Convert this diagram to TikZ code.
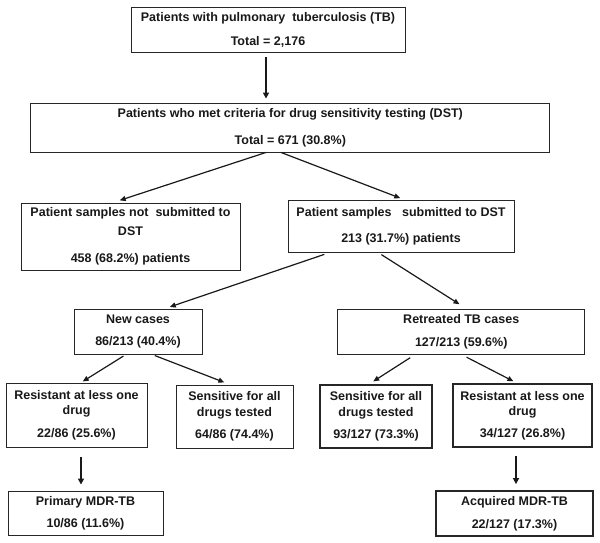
\documentclass[tikz,border=0pt]{standalone}
\usepackage{fontspec}
\setmainfont{Liberation Sans}
\usetikzlibrary{arrows.meta}
\begin{document}
\begin{tikzpicture}[x=1pt,y=-1pt,
  box/.style={draw=black!85, line width=0.9pt, align=center, inner sep=0pt,
    font=\fontsize{12.5}{15}\selectfont\bfseries, text=black!90},
  boxthick/.style={box, line width=1.8pt},
  conn/.style={-{Triangle[length=6pt,width=5pt]}, line width=1.2pt, draw=black!90},
  vconn/.style={-{Triangle[length=6pt,width=6pt]}, line width=2pt, draw=black!90}]
\useasboundingbox[fill=white] (0,0) rectangle (600,542);

\node[box, minimum width=274pt, minimum height=45pt] (b1) at (268,29.5)
  {Patients with pulmonary~~tuberculosis (TB)\\[9pt]Total = 2,176};
\node[box, minimum width=519pt, minimum height=49pt] (b2) at (290.3,127.5)
  {Patients who met criteria for drug sensitivity testing (DST)\\[12pt]Total = 671 (30.8\%)};
\node[box, minimum width=219pt, minimum height=67pt] (b3) at (130.5,236.5)
  {Patient samples not~~submitted to\\[4pt]DST\\[12pt]458 (68.2\%) patients};
\node[box, minimum width=226pt, minimum height=52pt] (b4) at (401,226)
  {Patient samples~~~submitted to DST\\[11pt]213 (31.7\%) patients};
\node[box, minimum width=128pt, minimum height=45pt] (b5) at (138,331.5)
  {New cases\\[7pt]86/213 (40.4\%)};
\node[box, minimum width=247pt, minimum height=45pt] (b6) at (461.25,331.5)
  {Retreated TB cases\\[8pt]127/213 (59.6\%)};
\node[box, minimum width=141pt, minimum height=64pt] (b7) at (76.5,415)
  {Resistant at less one\\drug\\[8pt]22/86 (25.6\%)};
\node[box, minimum width=117pt, minimum height=63pt] (b8) at (234.5,416.5)
  {Sensitive for all\\[1pt]drugs tested\\[7pt]64/86 (74.4\%)};
\node[boxthick, minimum width=112pt, minimum height=63pt] (b9) at (376,416.5)
  {Sensitive for all\\[1pt]drugs tested\\[7pt]93/127 (73.3\%)};
\node[boxthick, minimum width=139pt, minimum height=63pt] (b10) at (522.5,415.5)
  {Resistant at less one\\drug\\[7pt]34/127 (26.8\%)};
\node[box, minimum width=155pt, minimum height=44pt] (b11) at (85.5,513)
  {Primary MDR-TB\\[7pt]10/86 (11.6\%)};
\node[boxthick, minimum width=157pt, minimum height=45pt] (b12) at (514.5,513.5)
  {Acquired MDR-TB\\[8pt]22/127 (17.3\%)};

\draw[vconn, shorten <=5pt, shorten >=4pt] ([xshift=-2pt]b1.south) -- ([xshift=-24.3pt]b2.north);
\draw[conn, shorten >=7pt] ([xshift=-24.3pt]b2.south) -- ([xshift=-17.5pt]b3.north);
\draw[conn, shorten >=4pt] ([xshift=-9.3pt]b2.south) -- ([xshift=3pt]b4.north);
\draw[conn, shorten <=6pt, shorten >=5pt] ([xshift=-71pt]b4.south) -- ([xshift=27pt]b5.north);
\draw[conn, shorten <=4pt, shorten >=8pt] ([xshift=-23pt]b4.south) -- ([xshift=5pt]b6.north);
\draw[conn, shorten <=3pt, shorten >=2pt] ([xshift=-12pt]b5.south) -- ([xshift=4.5pt]b7.north);
\draw[conn, shorten <=3pt, shorten >=6pt] ([xshift=14pt]b5.south) -- ([xshift=-4.5pt]b8.north);
\draw[conn, shorten <=6pt, shorten >=5pt] ([xshift=-46pt]b6.south) -- ([xshift=-7pt]b9.north);
\draw[conn, shorten <=6pt, shorten >=4pt] (b6.south) -- ([xshift=-5.5pt]b10.north);
\draw[vconn, shorten <=10pt, shorten >=6pt] ([xshift=4.5pt]b7.south) -- ([xshift=-4.5pt]b11.north);
\draw[vconn, shorten <=8pt, shorten >=6pt] ([xshift=-6.5pt]b10.south) -- ([xshift=1.5pt]b12.north);
\end{tikzpicture}
\end{document}
